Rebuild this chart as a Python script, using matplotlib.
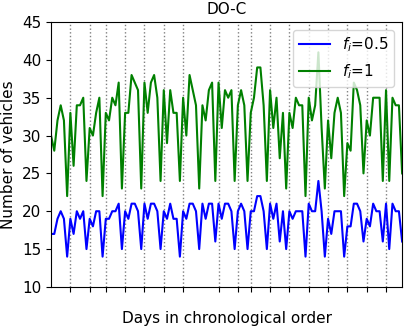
import matplotlib
matplotlib.use("Agg")
import matplotlib.pyplot as plt

# vehicles per day, f_i = 0.5 (blue) and f_i = 1 (green)
half = [17, 17, 19, 20, 19, 14, 19, 17, 20, 19, 20, 15, 19, 18, 20, 20, 14, 19, 19, 20,
        20, 21, 15, 20, 19, 21, 21, 20, 15, 21, 19, 21, 21, 20, 15, 20, 19, 21, 19, 19,
        14, 20, 19, 21, 21, 20, 15, 21, 19, 21, 21, 16, 21, 19, 21, 21, 20, 15, 20, 21,
        20, 15, 20, 20, 22, 22, 20, 15, 21, 19, 21, 16, 20, 15, 20, 19, 20, 20, 20, 14,
        21, 20, 20, 24, 20, 14, 19, 17, 20, 20, 20, 14, 18, 18, 21, 21, 20, 16, 19, 18,
        21, 20, 20, 16, 21, 15, 21, 20, 20, 16]
full = [30, 28, 32, 34, 32, 22, 33, 26, 34, 34, 35, 24, 31, 30, 33, 35, 22, 33, 32, 35,
        34, 37, 23, 33, 33, 38, 37, 36, 23, 37, 33, 37, 38, 35, 24, 36, 29, 36, 33, 33,
        24, 35, 30, 38, 36, 34, 23, 34, 32, 36, 37, 24, 37, 31, 36, 35, 36, 24, 34, 36,
        34, 24, 33, 35, 39, 39, 34, 24, 36, 31, 35, 27, 33, 23, 33, 31, 35, 34, 34, 22,
        35, 32, 34, 41, 31, 23, 32, 27, 33, 35, 33, 22, 29, 28, 37, 36, 34, 25, 32, 30,
        35, 35, 35, 24, 36, 24, 35, 34, 34, 25]
# start of each week (dotted lines)
week_starts = [6, 12, 17, 23, 29, 35, 41, 52, 58, 62, 68, 74, 80, 86, 92, 98, 104]

days = list(range(len(half)))

fig = plt.figure(figsize=(4.15, 3.34), dpi=100)
ax = fig.add_axes([0.123, 0.141, 0.846, 0.793])

ax.plot(days, half, color='b', lw=1.5, label=r'$f_i$=0.5')
ax.plot(days, full, color='g', lw=1.5, label=r'$f_i$=1')

ax.set_xlim(0, len(half) - 1)
ax.set_ylim(10, 45)
ax.set_xticks(week_starts)
ax.set_xticklabels([])
ax.tick_params(axis='y', labelsize=11)
ax.grid(axis='x', linestyle=':', color='gray', lw=1)

ax.set_title('DO-C', fontsize=11)
ax.set_ylabel('Number of vehicles', fontsize=11)
ax.set_xlabel('Days in chronological order', fontsize=11, labelpad=10)
ax.legend(loc='upper right', fontsize=11)

plt.savefig("out.png")
